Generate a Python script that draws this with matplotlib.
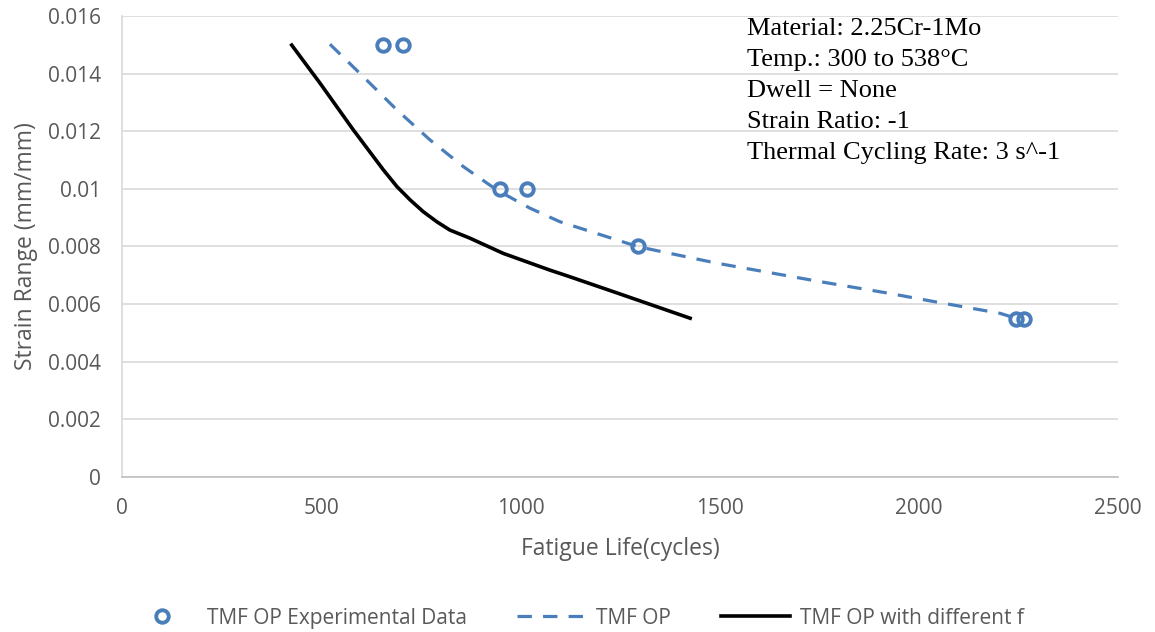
import matplotlib.pyplot as plt
from matplotlib.lines import Line2D

# Experimental data points
exp_cycles = [656, 706, 949, 1017, 1296, 2244, 2264]
exp_strain = [0.015, 0.015, 0.010, 0.010, 0.008, 0.0055, 0.0055]

# TMF OP model curve (dashed)
op_cycles = [522, 597, 690, 773, 857, 941, 1024, 1099, 1296, 1493, 1752, 1923, 2037, 2204, 2241]
op_strain = [0.01502, 0.01401, 0.01274, 0.0117, 0.01077, 0.00996, 0.00933, 0.00886, 0.00799,
             0.00742, 0.00678, 0.00638, 0.00609, 0.00568, 0.00552]

# TMF OP with different f (solid)
f_cycles = [426, 497, 581, 656, 690, 723, 756, 790, 823, 873, 957, 1074, 1124, 1242, 1426]
f_strain = [0.01499, 0.01367, 0.01204, 0.01066, 0.01008, 0.00962, 0.00921, 0.00886, 0.00857,
            0.00829, 0.00776, 0.00718, 0.00695, 0.00639, 0.00551]

info_lines = ["Material: 2.25Cr-1Mo", "Temp.: 300 to 538\u00b0C", "Dwell = None",
              "Strain Ratio: -1", "Thermal Cycling Rate: 3 s^-1"]

blue = '#4A7EBB'
gray_txt = '#595959'
dash = (0, (4.5, 3.5))

fig = plt.figure(figsize=(11.55, 6.32), dpi=100)
ax = fig.add_axes([0.1056, 0.2453, 0.8624, 0.7294])

ax.plot(op_cycles, op_strain, color=blue, lw=2.3, linestyle=dash, zorder=3)
ax.plot(f_cycles, f_strain, color='black', lw=2.6, zorder=3)
ax.plot(exp_cycles, exp_strain, linestyle='none', marker='o', ms=9, mfc='none',
        mec=blue, mew=2.8, zorder=4)

ax.set_xlim(0, 2500)
ax.set_ylim(0, 0.016)
ax.set_xticks([0, 500, 1000, 1500, 2000, 2500])
ax.set_yticks([0, 0.002, 0.004, 0.006, 0.008, 0.01, 0.012, 0.014, 0.016])
ax.set_yticklabels(['0', '0.002', '0.004', '0.006', '0.008', '0.01', '0.012', '0.014', '0.016'])
ax.grid(axis='y', color='#D9D9D9', lw=1.2)
ax.set_axisbelow(True)
for s in ['top', 'right']:
    ax.spines[s].set_visible(False)
ax.spines['left'].set_color('#D9D9D9')
ax.spines['bottom'].set_color('#BFBFBF')
ax.spines['left'].set_linewidth(1.2)
ax.spines['bottom'].set_linewidth(1.2)
ax.tick_params(length=0, labelsize=15, labelcolor=gray_txt)
ax.tick_params(axis='x', pad=15)
ax.tick_params(axis='y', pad=15)
for lab in ax.get_xticklabels() + ax.get_yticklabels():
    lab.set_family('Open Sans')

ax.set_xlabel('Fatigue Life(cycles)', fontsize=16.5, color=gray_txt, family='Open Sans', labelpad=13)
ax.set_ylabel('Strain Range (mm/mm)', fontsize=16.5, color=gray_txt, family='Open Sans', labelpad=7)

for i, line in enumerate(info_lines):
    ax.text(0.6273, 0.972 - i * 0.0672, line, transform=ax.transAxes, va='center', ha='left',
            fontsize=19, family='Liberation Serif')

handles = [
    Line2D([], [], linestyle='none', marker='o', ms=9, mfc='none', mec=blue, mew=2.8),
    Line2D([], [], color=blue, lw=2.3, linestyle=dash),
    Line2D([], [], color='black', lw=2.6),
]
labels = ['TMF OP Experimental Data', 'TMF OP', 'TMF OP with different f']
fig.legend(handles, labels, loc='center', bbox_to_anchor=(0.4985, 0.022), ncol=3, frameon=False,
           prop={'family': 'Open Sans', 'size': 15}, labelcolor=gray_txt,
           handlelength=3.3, columnspacing=2.4, handletextpad=0.5)

fig.savefig('out.png', dpi=100)
